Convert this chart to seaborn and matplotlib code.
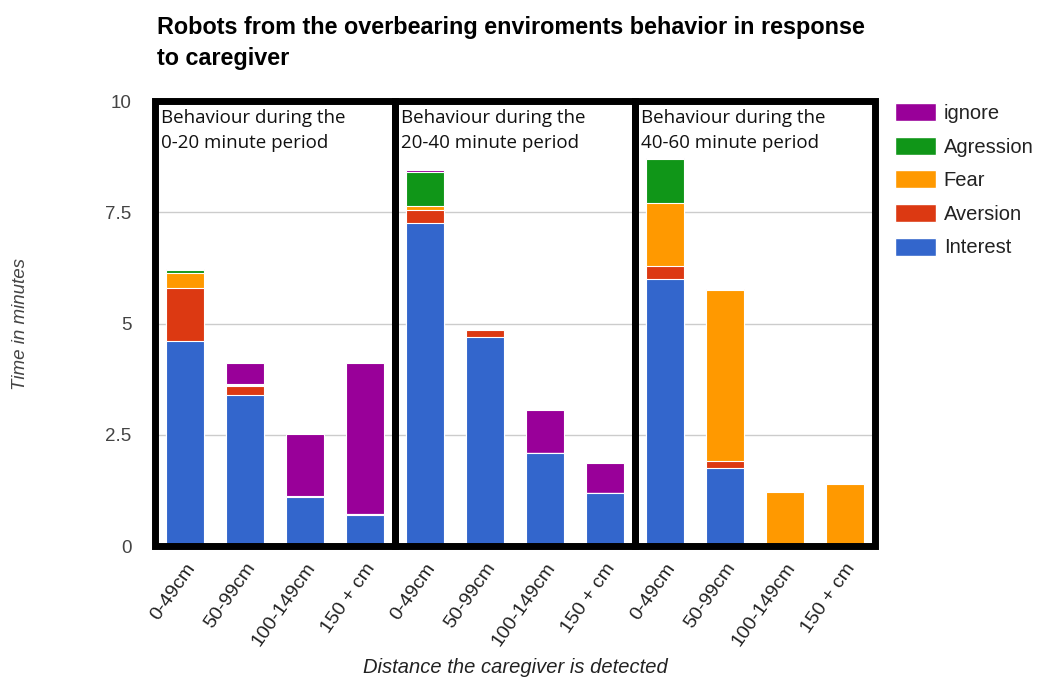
import matplotlib
matplotlib.use("Agg")
import matplotlib.pyplot as plt
from matplotlib.patches import Rectangle, Patch
import numpy as np
import pandas as pd
import seaborn as sns

# ---- data -------------------------------------------------------------
periods = ["0-20", "20-40", "40-60"]
distances = ["0-49cm", "50-99cm", "100-149cm", "150 + cm"]

interest  = [4.6, 3.4, 1.1, 0.7,   7.25, 4.7, 2.1, 1.2,   6.0, 1.75, 0.0, 0.0]
aversion  = [1.2, 0.2, 0.0, 0.0,   0.3, 0.15, 0.0, 0.0,   0.3, 0.15, 0.0, 0.0]
fear      = [0.33, 0.02, 0.01, 0.01, 0.1, 0.0, 0.0, 0.0,  1.4, 3.85, 1.22, 1.4]
agression = [0.07, 0.02, 0.01, 0.01, 0.75, 0.0, 0.0, 0.0, 1.0, 0.0, 0.0, 0.0]
ignore    = [0.03, 0.48, 1.4, 3.4,  0.05, 0.0, 0.95, 0.67, 0.03, 0.03, 0.02, 0.02]

series_names = ["Interest", "Aversion", "Fear", "Agression", "ignore"]
series_values = [interest, aversion, fear, agression, ignore]
colors = {"Interest": "#3366cc", "Aversion": "#dc3912", "Fear": "#ff9900",
          "Agression": "#109618", "ignore": "#990099"}

slots = [f"{p} {d}" for p in periods for d in distances]
tick_labels = [d for p in periods for d in distances]

# ---- figure -----------------------------------------------------------
sns.set_theme(style="white")
plt.rcParams["font.family"] = ["Liberation Sans", "DejaVu Sans"]

fig = plt.figure(figsize=(10.42, 6.8), dpi=100)
ax = fig.add_axes([0.1488, 0.197, 0.691, 0.6544])

# stacked bars: draw cumulative totals from the top layer down
cum = np.cumsum(np.array(series_values), axis=0)
for name, totals in reversed(list(zip(series_names, cum))):
    df = pd.DataFrame({"slot": slots, "value": totals})
    sns.barplot(data=df, x="slot", y="value", order=slots, color=colors[name],
                width=0.63, saturation=1, edgecolor="white", linewidth=0.8,
                ax=ax, zorder=2)

ax.set_xlim(-0.5, len(slots) - 0.5)
ax.set_ylim(0, 10)
ax.set_yticks([0, 2.5, 5, 7.5, 10])
ax.set_yticklabels(["0", "2.5", "5", "7.5", "10"], color="#444444", fontsize=13.5)
ax.yaxis.grid(True, color="#cccccc", linewidth=1, zorder=0)
ax.set_axisbelow(True)
ax.tick_params(axis="y", length=0, pad=17)
ax.tick_params(axis="x", length=0, pad=10)
ax.set_xticks(range(len(slots)))
ax.set_xticklabels(tick_labels, rotation=55, ha="right", rotation_mode="anchor",
                   color="#222222", fontsize=14)
for s in ax.spines.values():
    s.set_visible(False)

ax.set_xlabel("Distance the caregiver is detected", fontsize=14.5, style="italic",
              color="#222222", va="center")
ax.xaxis.set_label_coords(0.5, -0.272)
ax.set_ylabel("Time in minutes", fontsize=13.5, style="italic", color="#444444",
              va="center")
ax.yaxis.set_label_coords(-0.1875, 0.5)

# period frames and captions
for i, p in enumerate(periods):
    x0 = i * 4 - 0.5
    ax.add_patch(Rectangle((x0, 0), 4, 10, fill=False, edgecolor="black",
                           linewidth=5, zorder=5, clip_on=False))
    ax.text(x0 + 0.1, 9.83, f"Behaviour during the\n{p} minute period",
            fontsize=13.5, family=["Open Sans", "DejaVu Sans"], color="#111111",
            va="top", ha="left", linespacing=1.55, zorder=6)

fig.text(157 / 1042, 1 - 16 / 680,
         "Robots from the overbearing enviroments behavior in response\nto caregiver",
         fontsize=16.8, fontweight="bold", color="black", va="top", ha="left",
         linespacing=1.45)

handles = [Patch(facecolor=colors[n], edgecolor="white", label=n)
           for n in reversed(series_names)]
fig.legend(handles=handles, loc="upper left", bbox_to_anchor=(0.842, 0.875),
           frameon=False, fontsize=14.5, handlelength=2.0, handleheight=1.0,
           labelspacing=0.68, handletextpad=0.4, labelcolor="#222222")

fig.savefig("out.png", dpi=100, facecolor="white")
